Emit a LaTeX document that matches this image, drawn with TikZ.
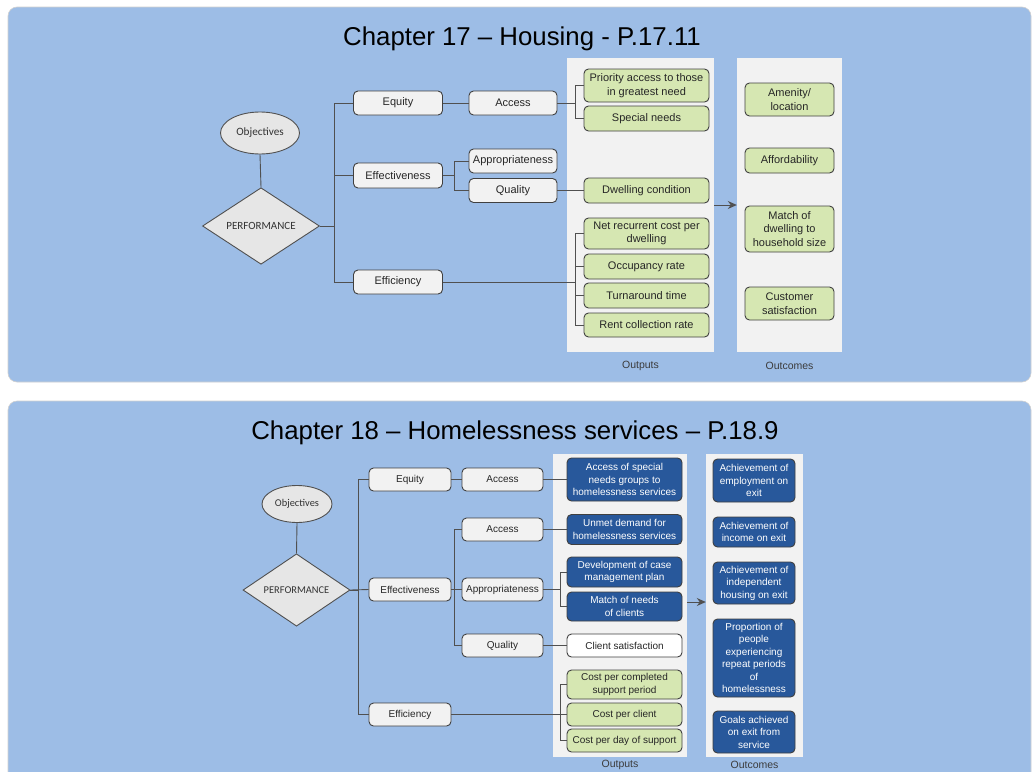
\documentclass[tikz,border=0pt]{standalone}
\usepackage{fontspec}
\setmainfont{Liberation Sans}
\newfontfamily\calfont{Carlito}
\usetikzlibrary{shapes.geometric,arrows.meta,calc}
\definecolor{panelblue}{RGB}{157,189,230}
\definecolor{panelgrey}{RGB}{242,242,242}
\definecolor{boxgrey}{RGB}{242,242,242}
\definecolor{shapegrey}{RGB}{230,230,230}
\definecolor{pgreen}{RGB}{214,231,178}
\definecolor{dblue}{RGB}{40,88,155}
\definecolor{bordergrey}{RGB}{64,64,64}
\definecolor{linegrey}{RGB}{80,80,80}
\definecolor{labelgrey}{RGB}{60,60,60}
\begin{document}
\begin{tikzpicture}[x=1pt,y=-1pt,
  panel/.style={fill=panelblue, draw=black!18, line width=0.6pt, rounded corners=9pt},
  colpanel/.style={fill=panelgrey, draw=none, inner sep=0pt},
  basebox/.style={draw=bordergrey, line width=0.9pt, rounded corners=4.5pt, inner sep=1pt, align=center, text=black!85},
  tbox/.style={basebox, fill=boxgrey, font=\fontsize{11}{13.5}\selectfont},
  tgreen/.style={basebox, fill=pgreen, font=\fontsize{11}{13.5}\selectfont},
  bbox/.style={basebox, fill=boxgrey, font=\fontsize{10}{12.5}\selectfont},
  bgreen/.style={basebox, fill=pgreen, font=\fontsize{10}{12.5}\selectfont},
  bwhite/.style={basebox, fill=white, font=\fontsize{10}{12.5}\selectfont},
  bdark/.style={basebox, fill=dblue, text=white, font=\fontsize{10}{12.5}\selectfont},
  objshape/.style={ellipse, draw=linegrey, line width=0.9pt, fill=shapegrey, inner sep=0pt, text=black!80},
  perfshape/.style={diamond, draw=linegrey, line width=0.9pt, fill=shapegrey, inner sep=0pt, text=black!80},
  conn/.style={draw=linegrey, line width=0.9pt},
  arrowconn/.style={conn, -{Stealth[length=9pt,width=8pt]}},
  titletext/.style={font=\fontsize{25.8}{30}\selectfont, text=black},
  collabel/.style={font=\fontsize{10.5}{12}\selectfont, text=labelgrey}
]
\useasboundingbox (0,0) rectangle (1032,771);
\fill[white] (0,0) rectangle (1032,771);

% ================= TOP PANEL =================
\draw[panel] (8,7) rectangle (1031,382);
\node[titletext] (title1) at (522,39) {Chapter 17 – Housing - P.17.11};

\node[colpanel, minimum width=147pt, minimum height=294pt] (outP1) at (640.5,205) {};
\node[colpanel, minimum width=105pt, minimum height=294pt] (outC1) at (789.5,205) {};
\node[collabel] (lblout1) at (640.5,366) {Outputs};
\node[collabel] (lbloc1) at (789.5,366) {Outcomes};

\node[objshape, minimum width=79pt, minimum height=42pt, font=\calfont\fontsize{11.2}{13}\selectfont] (obj1) at (260,133) {Objectives};
\node[perfshape, minimum width=117pt, minimum height=56pt, font=\calfont\fontsize{11}{13}\selectfont] (perf1) at (261,226) {PERFORMANCE};

\node[tbox, minimum width=89pt, minimum height=24pt] (equity1) at (398,103) {Equity};
\node[tbox, minimum width=89pt, minimum height=25pt] (effect1) at (398,175.5) {Effectiveness};
\node[tbox, minimum width=89pt, minimum height=24pt] (effic1) at (398,282) {Efficiency};

\node[tbox, minimum width=88pt, minimum height=24pt] (access1) at (513,103) {Access};
\node[tbox, minimum width=88pt, minimum height=24pt] (approp1) at (513,161) {Appropriateness};
\node[tbox, minimum width=88pt, minimum height=24pt] (quality1) at (513,190.5) {Quality};

\node[tgreen, minimum width=125pt, minimum height=33pt] (prio1) at (646.5,85.5) {Priority access to those\\in greatest need};
\node[tgreen, minimum width=125pt, minimum height=25pt] (spec1) at (646.5,118.5) {Special needs};
\node[tgreen, minimum width=125pt, minimum height=25pt] (dwell1) at (646.5,190.5) {Dwelling condition};
\node[tgreen, minimum width=125pt, minimum height=31pt] (net1) at (646.5,233.5) {Net recurrent cost per\\dwelling};
\node[tgreen, minimum width=125pt, minimum height=25pt] (occ1) at (646.5,266.5) {Occupancy rate};
\node[tgreen, minimum width=125pt, minimum height=25pt] (turn1) at (646.5,295.5) {Turnaround time};
\node[tgreen, minimum width=125pt, minimum height=24pt] (rent1) at (646.5,325) {Rent collection rate};

\node[tgreen, minimum width=89pt, minimum height=33pt] (amen1) at (789.5,99.5) {Amenity/\\location};
\node[tgreen, minimum width=89pt, minimum height=25pt] (afford1) at (789.5,160.5) {Affordability};
\node[tgreen, minimum width=89pt, minimum height=46pt] (match1) at (789.5,229) {Match of\\dwelling to\\household size};
\node[tgreen, minimum width=89pt, minimum height=33pt] (cust1) at (789.5,303.5) {Customer\\satisfaction};

\draw[conn] (obj1.south) -- (perf1.north);
\draw[conn] (perf1.east) -| ([xshift=-19pt]equity1.west) -- (equity1.west);
\draw[conn] (perf1.east) -| ([xshift=-19pt]effect1.west) -- (effect1.west);
\draw[conn] (perf1.east) -| ([xshift=-19pt]effic1.west) -- (effic1.west);
\draw[conn] (equity1.east) -- (access1.west);
\draw[conn] (effect1.east) -| ([xshift=-14pt]approp1.west) -- (approp1.west);
\draw[conn] (effect1.east) -| ([xshift=-14pt]quality1.west) -- (quality1.west);
\draw[conn] (access1.east) -| ([xshift=-8pt]prio1.west) -- (prio1.west);
\draw[conn] (access1.east) -| ([xshift=-8pt]spec1.west) -- (spec1.west);
\draw[conn] (quality1.east) -- (dwell1.west);
\draw[conn] (effic1.east) -| ([xshift=-8pt]net1.west) -- (net1.west);
\draw[conn] (effic1.east) -| ([xshift=-8pt]occ1.west) -- (occ1.west);
\draw[conn] (effic1.east) -| ([xshift=-8pt]turn1.west) -- (turn1.west);
\draw[conn] (effic1.east) -| ([xshift=-8pt]rent1.west) -- (rent1.west);
\draw[arrowconn] (outP1.east) -- (outC1.west);

% ================= BOTTOM PANEL =================
\draw[panel] (8,401) rectangle (1031,795);
\node[titletext] (title2) at (515,433) {Chapter 18 – Homelessness services – P.18.9};

\node[colpanel, minimum width=134pt, minimum height=303pt] (outP2) at (620,605.5) {};
\node[colpanel, minimum width=97pt, minimum height=303pt] (outC2) at (754.5,605.5) {};
\node[collabel] (lblout2) at (620,765) {Outputs};
\node[collabel] (lbloc2) at (754.5,765) {Outcomes};

\node[objshape, minimum width=70pt, minimum height=37pt, font=\calfont\fontsize{10.4}{12}\selectfont] (obj2) at (297,504) {Objectives};
\node[perfshape, minimum width=107pt, minimum height=52pt, font=\calfont\fontsize{10.4}{12}\selectfont] (perf2) at (296.5,590) {PERFORMANCE};

\node[bbox, minimum width=82pt, minimum height=23pt] (equity2) at (410,479.5) {Equity};
\node[bbox, minimum width=82pt, minimum height=23pt] (effect2) at (410,589.5) {Effectiveness};
\node[bbox, minimum width=82pt, minimum height=23pt] (effic2) at (410,714.5) {Efficiency};

\node[bbox, minimum width=81pt, minimum height=23pt] (access2a) at (502.5,479.5) {Access};
\node[bbox, minimum width=81pt, minimum height=23pt] (access2b) at (502.5,529.5) {Access};
\node[bbox, minimum width=81pt, minimum height=23pt] (approp2) at (502.5,589.5) {Appropriateness};
\node[bbox, minimum width=81pt, minimum height=23pt] (quality2) at (502.5,645.5) {Quality};

\node[bdark, minimum width=115pt, minimum height=43pt] (o1) at (624.5,479.5) {Access of special\\needs groups to\\homelessness services};
\node[bdark, minimum width=115pt, minimum height=30pt] (o2) at (624.5,529.5) {Unmet demand for\\homelessness services};
\node[bdark, minimum width=115pt, minimum height=30pt] (o3) at (624.5,572) {Development of case\\management plan};
\node[bdark, minimum width=115pt, minimum height=29pt] (o4) at (624.5,606.5) {Match of needs\\of clients};
\node[bwhite, minimum width=115pt, minimum height=23pt] (o5) at (624.5,645.5) {Client satisfaction};
\node[bgreen, minimum width=115pt, minimum height=29pt] (o6) at (624.5,684.5) {Cost per completed\\support period};
\node[bgreen, minimum width=115pt, minimum height=23pt] (o7) at (624.5,714.5) {Cost per client};
\node[bgreen, minimum width=115pt, minimum height=23pt] (o8) at (624.5,740.5) {Cost per day of support};

\node[bdark, minimum width=82pt, minimum height=43pt] (c1) at (754,480.5) {Achievement of\\employment on\\exit};
\node[bdark, minimum width=82pt, minimum height=30pt] (c2) at (754,532) {Achievement of\\income on exit};
\node[bdark, minimum width=82pt, minimum height=42pt] (c3) at (754,583) {Achievement of\\independent\\housing on exit};
\node[bdark, minimum width=82pt, minimum height=78pt] (c4) at (754,658) {Proportion of\\people\\experiencing\\repeat periods\\of\\homelessness};
\node[bdark, minimum width=82pt, minimum height=42pt] (c5) at (754,732) {Goals achieved\\on exit from\\service};

\draw[conn] (obj2.south) -- (perf2.north);
\draw[conn] (perf2.east) -| ([xshift=-10pt]equity2.west) -- (equity2.west);
\draw[conn] (perf2.east) -- (effect2.west);
\draw[conn] (perf2.east) -| ([xshift=-10pt]effic2.west) -- (effic2.west);
\draw[conn] (equity2.east) -- (access2a.west);
\draw[conn] (effect2.east) -| ([xshift=-7pt]access2b.west) -- (access2b.west);
\draw[conn] (effect2.east) -- (approp2.west);
\draw[conn] (effect2.east) -| ([xshift=-7pt]quality2.west) -- (quality2.west);
\draw[conn] (access2a.east) -- (o1.west);
\draw[conn] (access2b.east) -- (o2.west);
\draw[conn] (approp2.east) -| ([xshift=-6pt]o3.west) -- (o3.west);
\draw[conn] (approp2.east) -| ([xshift=-6pt]o4.west) -- (o4.west);
\draw[conn] (quality2.east) -- (o5.west);
\draw[conn] (effic2.east) -| ([xshift=-6pt]o6.west) -- (o6.west);
\draw[conn] (effic2.east) -- (o7.west);
\draw[conn] (effic2.east) -| ([xshift=-6pt]o8.west) -- (o8.west);
\draw[arrowconn] ([yshift=3.5pt]outP2.east) -- ([yshift=3.5pt]outC2.west);
\end{tikzpicture}
\end{document}
